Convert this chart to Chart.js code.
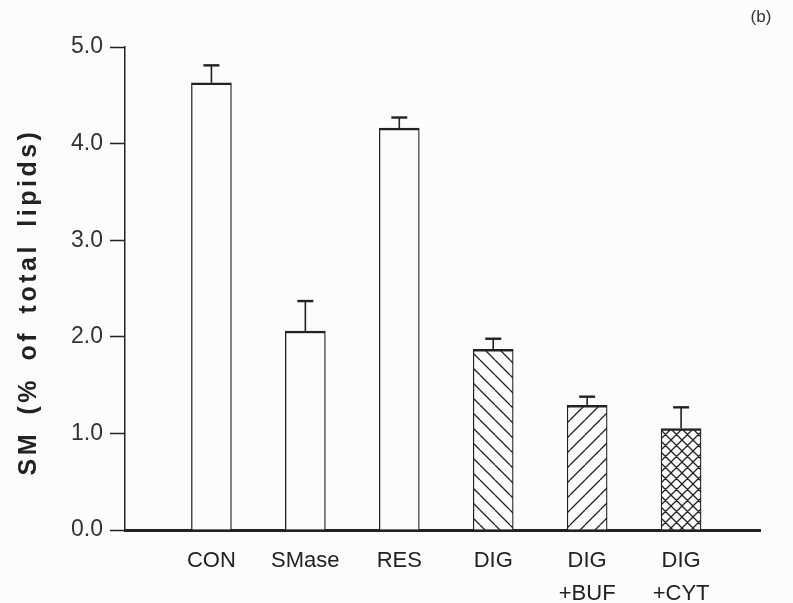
<!DOCTYPE html>
<html>
<head>
<meta charset="utf-8">
<script src="https://cdn.jsdelivr.net/npm/chart.js@4.4.1/dist/chart.umd.min.js"></script>
<style>
  body { margin: 0; background: #fcfcfc; }
  #wrap { width: 793px; height: 603px; position: relative; }
</style>
</head>
<body>
<div id="wrap"><canvas id="graficoSM"></canvas></div>
<script>
// dados
const categorias = [['CON'], ['SMase'], ['RES'], ['DIG'], ['DIG', '+BUF'], ['DIG', '+CYT']];
const valoresSM = [4.63, 2.06, 4.16, 1.87, 1.29, 1.05];
const errosSM = [0.18, 0.31, 0.11, 0.11, 0.09, 0.22];
const ticksY = [0, 1, 2, 3, 4, 5];
const tituloY = 'SM (% of total lipids)';
const painel = '(b)';

// padrões de tracejado para as barras DIG
function tracejado(tipo, s) {
    const c = document.createElement('canvas');
    c.width = s; c.height = s;
    const g = c.getContext('2d');
    g.fillStyle = '#fcfcfc';
    g.fillRect(0, 0, s, s);
    g.strokeStyle = '#222';
    g.lineWidth = 1.3;
    g.beginPath();
    for (let k = -s; k <= s; k += s) {
        if (tipo === 'back' || tipo === 'cross') {
            g.moveTo(k, 0); g.lineTo(k + s, s);
        }
        if (tipo === 'fwd' || tipo === 'cross') {
            g.moveTo(k, s); g.lineTo(k + s, 0);
        }
    }
    g.stroke();
    return g.createPattern(c, 'repeat');
}

const preenchimentos = ['#fcfcfc', '#fcfcfc', '#fcfcfc', tracejado('back', 15), tracejado('fwd', 15), tracejado('cross', 11)];

const barrasErro = {
    id: 'barrasErro',
    afterDatasetsDraw(chart) {
        const ctx = chart.ctx;
        const y = chart.scales.y;
        const meta = chart.getDatasetMeta(0);
        ctx.save();
        ctx.strokeStyle = '#222';
        meta.data.forEach(function (barra, i) {
            const topo = y.getPixelForValue(valoresSM[i] + errosSM[i]);
            ctx.lineWidth = 1.6;
            ctx.beginPath();
            ctx.moveTo(barra.x, barra.y);
            ctx.lineTo(barra.x, topo);
            ctx.stroke();
            ctx.lineWidth = 2.4;
            ctx.beginPath();
            ctx.moveTo(barra.x - 8, topo);
            ctx.lineTo(barra.x + 8, topo);
            ctx.stroke();
        });
        ctx.restore();
    },
    afterDraw(chart) {
        const ctx = chart.ctx;
        ctx.save();
        ctx.fillStyle = '#222';
        ctx.font = 'bold 25px "Liberation Sans", Arial, sans-serif';
        ctx.letterSpacing = '3.5px';
        ctx.wordSpacing = '6px';
        ctx.textAlign = 'center';
        ctx.textBaseline = 'middle';
        ctx.translate(29, 302);
        ctx.rotate(-Math.PI / 2);
        ctx.fillText(tituloY, 0, 0);
        ctx.restore();
        ctx.save();
        ctx.fillStyle = '#333';
        ctx.font = '17px "Liberation Sans", Arial, sans-serif';
        ctx.textAlign = 'center';
        ctx.textBaseline = 'middle';
        ctx.fillText(painel, 761, 17);
        ctx.restore();
    }
};

const ctxSM = document.getElementById('graficoSM');
new Chart(ctxSM.getContext('2d'), {
    type: 'bar',
    data: {
        datasets: [{
            data: valoresSM.map(function (v, i) { return { x: i + 1, y: v }; }),
            backgroundColor: preenchimentos,
            borderColor: '#222',
            borderWidth: { top: 2.5, left: 1.3, right: 1.3, bottom: 0 },
            borderSkipped: 'bottom',
            barThickness: 40
        }]
    },
    options: {
        responsive: true,
        maintainAspectRatio: false,
        animation: false,
        layout: { padding: { top: 47, right: 33, left: 0, bottom: 0 } },
        plugins: {
            legend: { display: false },
            tooltip: { enabled: false }
        },
        scales: {
            x: {
                type: 'linear',
                offset: false,
                min: 0.08,
                max: 6.84,
                grid: { display: false, offset: false },
                border: { display: true, color: '#222', width: 3 },
                afterFit: function (s) { s.height = 73; },
                afterBuildTicks: function (s) {
                    s.ticks = categorias.map(function (c, i) { return { value: i + 1 }; });
                },
                ticks: {
                    autoSkip: false,
                    maxRotation: 0,
                    padding: 6,
                    color: '#222',
                    font: { family: '"Liberation Sans", Arial, sans-serif', size: 22, lineHeight: 1.5 },
                    callback: function (v) { return categorias[v - 1] || ''; }
                }
            },
            y: {
                min: 0,
                max: 5,
                afterFit: function (s) { s.width = 125; },
                afterBuildTicks: function (s) { s.ticks = ticksY.map(function (v) { return { value: v }; }); },
                grid: { drawOnChartArea: false, drawTicks: true, tickLength: 15, tickWidth: 1.5, tickColor: '#222' },
                border: { display: true, color: '#222', width: 1.5 },
                ticks: {
                    padding: 7,
                    color: '#333',
                    font: { family: '"Liberation Sans", Arial, sans-serif', size: 23 },
                    callback: function (v) { return v.toFixed(1); }
                }
            }
        }
    },
    plugins: [barrasErro]
});
</script>
</body>
</html>
